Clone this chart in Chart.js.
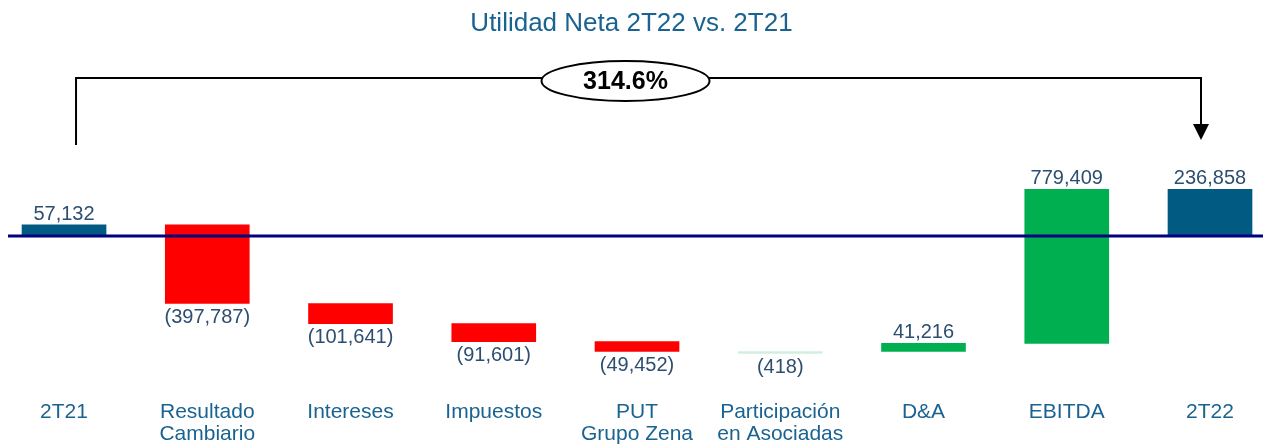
<!DOCTYPE html>
<html>
<head>
<meta charset="utf-8">
<script src="https://cdn.jsdelivr.net/npm/chart.js@4.4.1/dist/chart.umd.min.js"></script>
<style>
  html, body { margin: 0; padding: 0; background: #fff; }
  #wrap { width: 1263px; height: 445px; }
</style>
</head>
<body>
<div id="wrap"><canvas id="chart"></canvas></div>
<script>
var categories = ['2T21', ['Resultado', 'Cambiario'], 'Intereses', 'Impuestos', ['PUT', 'Grupo Zena'],
  ['Participación', 'en Asociadas'], 'D&A', 'EBITDA', '2T22'];
var changes = [57132, -397787, -101641, -91601, -49452, -418, 41216, 779409, 236858];
var valueLabels = ['57,132', '(397,787)', '(101,641)', '(91,601)', '(49,452)', '(418)', '41,216', '779,409', '236,858'];
var isTotal = [true, false, false, false, false, false, false, false, true];
var growthLabel = '314.6%';

// floating bars for the waterfall
var ranges = [];
var running = 0;
for (var i = 0; i < changes.length; i++) {
  if (isTotal[i]) {
    ranges.push({ x: i, y: [0, changes[i]] });
    running = changes[i];
  } else {
    ranges.push({ x: i, y: [running, running + changes[i]] });
    running += changes[i];
  }
}

var colors = changes.map(function (v, i) {
  if (isTotal[i]) return '#005A82';
  if (i == 5) return '#D3EEDD';
  return v < 0 ? '#FF0000' : '#00B050';
});

var waterfallExtras = {
  id: 'waterfallExtras',
  afterDatasetsDraw: function (chart) {
    var ctx = chart.ctx;
    var x = chart.scales.x, y = chart.scales.y;
    var zero = y.getPixelForValue(0);

    // zero line
    ctx.save();
    ctx.strokeStyle = '#000080';
    ctx.lineWidth = 3;
    ctx.beginPath();
    ctx.moveTo(8, zero);
    ctx.lineTo(chart.width, zero);
    ctx.stroke();

    // value labels
    ctx.font = '20px "Liberation Sans", Arial, sans-serif';
    ctx.fillStyle = '#2D4E70';
    ctx.textAlign = 'center';
    var meta = chart.getDatasetMeta(0);
    meta.data.forEach(function (bar, i) {
      var top = Math.min(bar.y, bar.base);
      var bottom = Math.max(bar.y, bar.base);
      if (changes[i] >= 0) {
        ctx.textBaseline = 'alphabetic';
        ctx.fillText(valueLabels[i], bar.x, top - 5);
      } else {
        ctx.textBaseline = 'top';
        ctx.fillText(valueLabels[i], bar.x, bottom + 4);
      }
    });

    // growth bracket
    var lx = x.getPixelForValue(0) + 12;
    var rx = x.getPixelForValue(changes.length - 1) - 9;
    var topY = 78;
    ctx.strokeStyle = '#000';
    ctx.lineWidth = 2;
    ctx.beginPath();
    ctx.moveTo(lx, 145);
    ctx.lineTo(lx, topY);
    ctx.lineTo(rx, topY);
    ctx.lineTo(rx, 126);
    ctx.stroke();
    ctx.fillStyle = '#000';
    ctx.beginPath();
    ctx.moveTo(rx - 8, 124);
    ctx.lineTo(rx + 8, 124);
    ctx.lineTo(rx, 140);
    ctx.closePath();
    ctx.fill();

    var cx = (lx + rx) / 2;
    ctx.fillStyle = '#fff';
    ctx.beginPath();
    ctx.ellipse(cx - 13, 81, 84, 20, 0, 0, Math.PI * 2);
    ctx.fill();
    ctx.stroke();
    ctx.fillStyle = '#000';
    ctx.font = 'bold 25px "Liberation Sans", Arial, sans-serif';
    ctx.textBaseline = 'middle';
    ctx.fillText(growthLabel, cx - 13, 82);
    ctx.restore();
  }
};

new Chart(document.getElementById('chart'), {
  type: 'bar',
  data: {
    datasets: [{
      data: ranges,
      backgroundColor: colors,
      borderWidth: 0,
      barThickness: 84,
      minBarLength: 2
    }]
  },
  options: {
    responsive: true,
    maintainAspectRatio: false,
    animation: false,
    layout: { padding: { left: 0, right: 0, top: 0, bottom: -6 } },
    plugins: {
      legend: { display: false },
      tooltip: { enabled: false },
      title: {
        display: true,
        text: 'Utilidad Neta 2T22 vs. 2T21',
        color: '#1A6391',
        font: { family: '"Liberation Sans", Arial, sans-serif', size: 26, weight: 'normal' },
        padding: { top: 8, bottom: 111 }
      }
    },
    scales: {
      x: {
        type: 'linear',
        offset: false,
        min: -0.447,
        max: 8.37,
        grid: { display: false, drawTicks: false },
        border: { display: false },
        afterBuildTicks: function (axis) {
          axis.ticks = categories.map(function (c, i) { return { value: i }; });
        },
        ticks: {
          padding: 6,
          maxRotation: 0,
          autoSkip: false,
          color: '#1A6391',
          font: { family: '"Liberation Sans", Arial, sans-serif', size: 21, lineHeight: 1.05 },
          callback: function (v) { return categories[v]; }
        }
      },
      y: {
        display: false,
        min: -803000,
        max: 434300
      }
    }
  },
  plugins: [waterfallExtras]
});
</script>
</body>
</html>
